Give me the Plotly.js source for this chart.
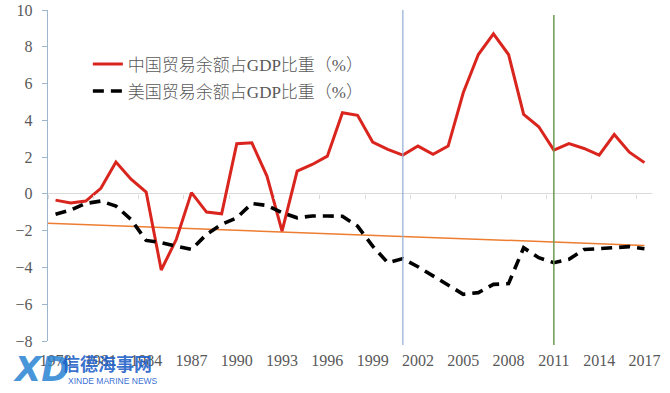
<!DOCTYPE html>
<html>
<head>
<meta charset="utf-8">
<script src="https://cdn.plot.ly/plotly-3.0.1.min.js"></script>
<style>html,body{margin:0;padding:0;background:#fff;}#chart{width:670px;height:393px;}</style>
</head>
<body>
<div id="chart"></div>
<script>
// ---- data ----
const years = [1978,1979,1980,1981,1982,1983,1984,1985,1986,1987,
               1988,1989,1990,1991,1992,1993,1994,1995,1996,1997,
               1998,1999,2000,2001,2002,2003,2004,2005,2006,2007,
               2008,2009,2010,2011,2012,2013,2014,2015,2016,2017];
const china = [-0.34,-0.5,-0.39,0.3,1.73,0.8,0.1,-4.14,-2.47,0.07,
               -0.99,-1.08,2.73,2.78,0.97,-2.02,1.24,1.6,2.05,4.41,
               4.27,2.82,2.42,2.11,2.6,2.15,2.6,5.5,7.58,8.7,
               7.58,4.32,3.65,2.38,2.73,2.47,2.11,3.23,2.27,1.7];
const us = [-1.11,-0.88,-0.52,-0.39,-0.66,-1.39,-2.53,-2.65,-2.84,-3.02,
            -2.2,-1.66,-1.3,-0.52,-0.63,-1.02,-1.3,-1.2,-1.2,-1.22,
            -1.75,-2.84,-3.74,-3.52,-3.96,-4.47,-5.0,-5.46,-5.37,-4.92,
            -4.88,-2.93,-3.47,-3.74,-3.56,-3.02,-2.98,-2.93,-2.87,-2.98];
const trendX = [1977.5, 2017];
const trendY = [-1.6, -2.8];
const markerYears = [2001, 2011];
const tickYears = [1978,1981,1984,1987,1990,1993,1996,1999,2002,2005,2008,2011,2014,2017];
const boundaryTicks = [1977.5,1980.5,1983.5,1986.5,1989.5,1992.5,1995.5,1998.5,2001.5,2004.5,2007.5,2010.5,2013.5,2016.5];
const seriesNames = ['中国贸易余额占GDP比重（%）','美国贸易余额占GDP比重（%）'];

const gray = '#595959';
const serif = 'Liberation Serif, Times New Roman, Noto Sans CJK SC, serif';
const txtFont = {family: serif, size:16, color:gray};

const traces = [
  {x: trendX, y: trendY, mode:'lines', line:{color:'#ed7d31', width:1.5}, showlegend:false, hoverinfo:'skip'},
  {x: years, y: china, name: seriesNames[0], mode:'lines', legendgroup:'a',
   line:{color:'#d9251d', width:3}},
  {x: years, y: us, name: seriesNames[1], mode:'lines', legendgroup:'b',
   line:{color:'#000000', width:3.6, dash:'11px,7px'}},
  {x: [years[0]], y:[0], xaxis:'x2', mode:'markers', marker:{opacity:0}, showlegend:false, hoverinfo:'skip'}
];

const shapes = [
  {type:'line', xref:'x', yref:'paper', x0:markerYears[0], x1:markerYears[0], y0:-0.012, y1:1.0, line:{color:'#8eaed6', width:1.2}},
  {type:'line', xref:'x', yref:'paper', x0:markerYears[1], x1:markerYears[1], y0:-0.012, y1:0.985, line:{color:'#6f9a4f', width:1.5}}
];

const layout = {
  width:670, height:393,
  margin:{l:48, r:18, t:10, b:52},
  paper_bgcolor:'#fff', plot_bgcolor:'#fff',
  showlegend:true,
  legend:{x:0.066, y:0.89, xanchor:'left', yanchor:'top', bgcolor:'rgba(0,0,0,0)',
          font:{family: serif, size:17, color:gray, weight:300},
          tracegroupgap:2, itemwidth:30},
  xaxis:{range:[1977.5, 2017.5], tickmode:'array', tickvals:tickYears, ticktext:tickYears.map(String),
         showgrid:false, zeroline:false, showline:false, ticks:'', tickfont:txtFont, ticklabelstandoff:8},
  xaxis2:{overlaying:'x', anchor:'free', position:8/18, range:[1977.5, 2017.5], tickmode:'array',
          tickvals:boundaryTicks, ticks:'outside', ticklen:4, tickcolor:'#d9d9d9',
          showticklabels:false, showgrid:false, zeroline:false, showline:false},
  yaxis:{range:[-8,10], tickmode:'array', tickvals:[-8,-6,-4,-2,0,2,4,6,8,10],
         showgrid:false, zeroline:true, zerolinecolor:'#d9d9d9', zerolinewidth:1,
         showline:true, linecolor:'#9fb6cf', linewidth:1.2, ticks:'outside', ticklen:5, tickcolor:'#9fb6cf',
         tickfont:txtFont, ticklabelstandoff:6},
  shapes: shapes,
  annotations:[
    {xref:'paper', yref:'paper', x:-0.062, y:-0.085, xanchor:'left', yanchor:'middle', showarrow:false,
     text:'<b><i>XD</i></b>', font:{family:'DejaVu Sans, sans-serif', size:34, color:'rgba(40,130,210,0.85)'}},
    {xref:'paper', yref:'paper', x:0.02, y:-0.065, xanchor:'left', yanchor:'middle', showarrow:false,
     text:'<b>信德海事网</b>', font:{family:'Noto Sans CJK SC, sans-serif', size:18, color:'rgba(30,95,200,0.9)'}},
    {xref:'paper', yref:'paper', x:0.03, y:-0.12, xanchor:'left', yanchor:'middle', showarrow:false,
     text:'XINDE MARINE NEWS', font:{family:'Liberation Sans, sans-serif', size:8.5, color:'rgba(40,100,210,0.95)'}}
  ]
};

Plotly.newPlot('chart', traces, layout, {displayModeBar:false, staticPlot:true});
</script>
</body>
</html>
